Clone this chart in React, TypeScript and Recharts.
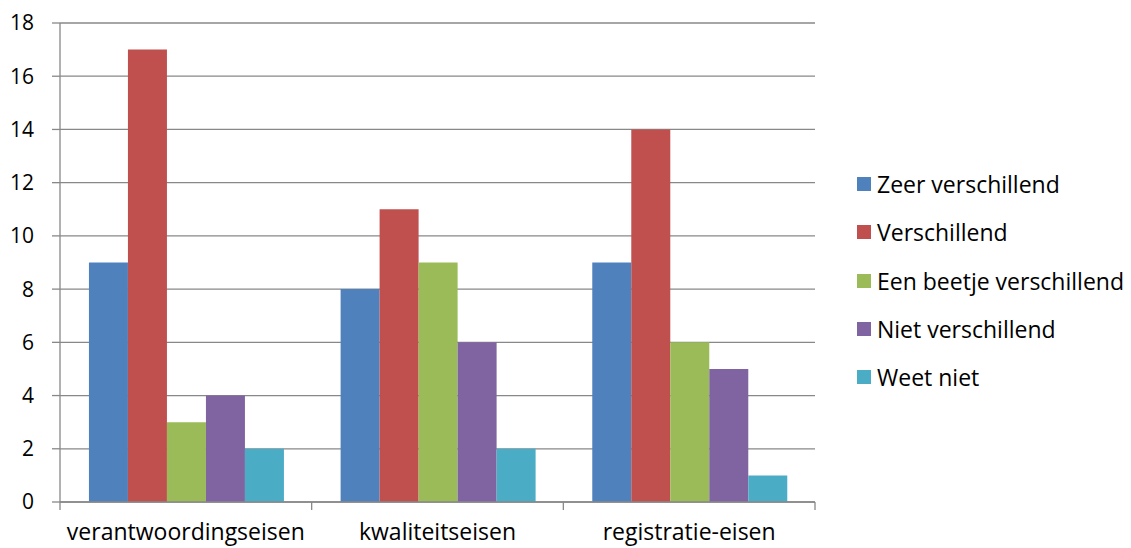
import React from 'react';
import { BarChart, Bar, XAxis, YAxis, CartesianGrid, Legend } from 'recharts';

// Categories of requirements
const categories = ['verantwoordingseisen', 'kwaliteitseisen', 'registratie-eisen'];

// Number of answers per category, per response option
const zeerVerschillend = [9, 8, 9];
const verschillend = [17, 11, 14];
const beetjeVerschillend = [3, 9, 6];
const nietVerschillend = [4, 6, 5];
const weetNiet = [2, 2, 1];

const yTicks = [0, 2, 4, 6, 8, 10, 12, 14, 16, 18];

const seriesDefs = [
  { key: 'zeer', name: 'Zeer verschillend', color: '#4F81BD', values: zeerVerschillend },
  { key: 'versch', name: 'Verschillend', color: '#C0504D', values: verschillend },
  { key: 'beetje', name: 'Een beetje verschillend', color: '#9BBB59', values: beetjeVerschillend },
  { key: 'niet', name: 'Niet verschillend', color: '#8064A2', values: nietVerschillend },
  { key: 'weet', name: 'Weet niet', color: '#4BACC6', values: weetNiet },
];

const data = categories.map((cat, i) => {
  const row: Record<string, string | number> = { cat };
  seriesDefs.forEach((s) => {
    row[s.key] = s.values[i];
  });
  return row;
});

const FONT = '"Open Sans", "Noto Sans", sans-serif';
const FONT_SIZE = 23;
const TICK_FONT_SIZE = 21;
const AXIS_GRAY = '#888888';
const LABEL_MARGIN = 22;
const LEGEND_WIDTH = 270;

// Category tick: label centred in the band, tick marks on the band edges
const CategoryTick = (props: any) => {
  const { x, y, payload, index, visibleTicksCount, width } = props;
  const half =
    payload && typeof payload.offset === 'number' && payload.offset > 0
      ? payload.offset
      : width / (visibleTicksCount || 3) / 2;
  const axisY = y - LABEL_MARGIN;
  const last = index === (visibleTicksCount || 3) - 1;
  return (
    <g>
      <line x1={x - half} x2={x - half} y1={axisY} y2={axisY + 8} stroke={AXIS_GRAY} strokeWidth={1.3} />
      {last && (
        <line x1={x + half} x2={x + half} y1={axisY} y2={axisY + 8} stroke={AXIS_GRAY} strokeWidth={1.3} />
      )}
      <text x={x} y={y} dy="0.71em" textAnchor="middle" fill="#000" fontSize={FONT_SIZE} fontFamily={FONT}>
        {payload.value}
      </text>
    </g>
  );
};

// Legend listed in series order
const LegendContent = (props: any) => {
  const { payload } = props;
  const items = seriesDefs
    .map((s) => (payload || []).find((p: any) => p.value === s.name))
    .filter(Boolean);
  return (
    <div style={{ fontFamily: FONT, fontSize: FONT_SIZE, color: '#000', width: LEGEND_WIDTH }}>
      {items.map((item: any) => (
        <div
          key={item.value}
          style={{ height: 48.3, display: 'flex', alignItems: 'center', whiteSpace: 'nowrap' }}
        >
          <span
            style={{
              display: 'inline-block',
              width: 14,
              height: 14,
              background: item.color,
              marginRight: 6,
            }}
          />
          <span>{item.value}</span>
        </div>
      ))}
    </div>
  );
};

export default function App() {
  return (
    <div style={{ position: 'absolute', left: 0, top: 0, width: 1131, height: 548, background: '#fff', overflow: 'hidden' }}>
      <BarChart
        width={1131}
        height={548}
        data={data}
        margin={{ top: 23, right: 316 - LEGEND_WIDTH, bottom: 0, left: 0 }}
        barCategoryGap="11.5%"
        barGap={0}
      >
        <CartesianGrid vertical={false} stroke={AXIS_GRAY} strokeWidth={1.3} />
        <XAxis
          dataKey="cat"
          height={46}
          axisLine={{ stroke: AXIS_GRAY, strokeWidth: 1.3 }}
          tickLine={false}
          tickSize={0}
          tickMargin={LABEL_MARGIN}
          interval={0}
          tick={<CategoryTick />}
        />
        <YAxis
          width={60}
          domain={[0, 18]}
          ticks={yTicks}
          interval={0}
          tickSize={8}
          tickMargin={18}
          axisLine={{ stroke: AXIS_GRAY, strokeWidth: 1.3 }}
          tickLine={{ stroke: AXIS_GRAY, strokeWidth: 1.3 }}
          tick={{ fill: '#000', fontSize: TICK_FONT_SIZE, fontFamily: FONT }}
        />
        <Legend
          layout="vertical"
          verticalAlign="top"
          align="right"
          content={<LegendContent />}
          wrapperStyle={{ left: 857, top: 160, width: LEGEND_WIDTH }}
        />
        {seriesDefs.map((s) => (
          <Bar key={s.key} dataKey={s.key} name={s.name} fill={s.color} isAnimationActive={false} />
        ))}
      </BarChart>
    </div>
  );
}
